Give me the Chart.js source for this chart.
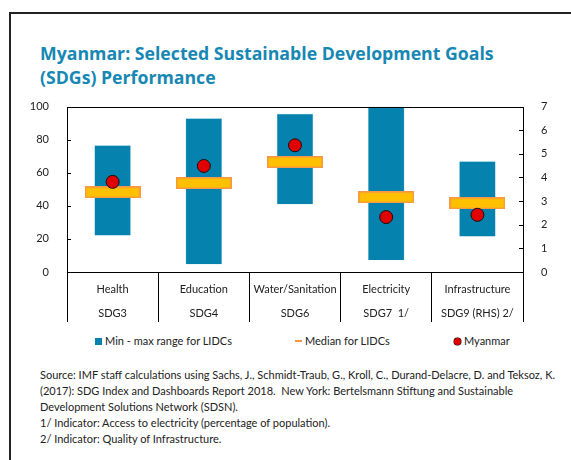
<!DOCTYPE html>
<html>
<head>
<meta charset="utf-8">
<script src="https://cdn.jsdelivr.net/npm/chart.js@4/dist/chart.umd.min.js"></script>
<style>
  body { margin: 0; width: 571px; height: 460px; background: #fff; position: relative; overflow: hidden; font-family: Lato, sans-serif; color: #222; }
  #frame { position: absolute; left: 9px; top: 12px; width: 600px; height: 500px; border-left: 2px solid #222; border-top: 2px solid #222; }
  #title { position: absolute; left: 40px; top: 41px; font: bold 17.7px/24px "Open Sans", sans-serif; color: #1688b3; white-space: nowrap; }
  #chart-wrap { position: absolute; left: 0; top: 90px; width: 571px; height: 240px; }
  .legend-item { position: absolute; top: 333px; font-size: 11px; line-height: 16px; white-space: nowrap; }
  .legend-item i { display: inline-block; vertical-align: middle; margin-right: 3px; position: relative; top: -1px; }
  #source { position: absolute; left: 40px; top: 367px; font-size: 11px; line-height: 16px; white-space: nowrap; color: #222; }
</style>
</head>
<body>
<div id="frame"></div>
<div id="title">Myanmar: Selected Sustainable Development Goals<br>(SDGs) Performance</div>
<div id="chart-wrap"><canvas id="sdg-chart"></canvas></div>
<div class="legend-item" style="left:95px"><i style="width:7px;height:7px;background:#0582ad"></i>Min - max range for LIDCs</div>
<div class="legend-item" style="left:295px"><i style="width:7px;height:2px;background:#f79646"></i>Median for LIDCs</div>
<div class="legend-item" style="left:454px"><i style="width:7px;height:7px;border-radius:50%;background:#e00000;box-shadow:0 0 0 0.5px #000"></i>Myanmar</div>
<div id="source">
Source: IMF staff calculations using Sachs, J., Schmidt-Traub, G., Kroll, C., Durand-Delacre, D. and Teksoz, K.<br>
(2017): SDG Index and Dashboards Report 2018.&nbsp; New York: Bertelsmann Stiftung and Sustainable<br>
Development Solutions Network (SDSN).<br>
1/ Indicator: Access to electricity (percentage of population).<br>
2/ Indicator: Quality of Infrastructure.
</div>
<script>
// goal categories, two-line labels for the table under the plot
const categories = [
    ["Health", "SDG3"],
    ["Education", "SDG4"],
    ["Water/Sanitation", "SDG6"],
    ["Electricity", "SDG7  1/"],
    ["Infrastructure", "SDG9 (RHS) 2/"]
];

// LIDC ranges, medians and Myanmar scores (last one is on the right axis, 0-7)
const lidcMin = [22, 4.7, 41, 7.2, 1.5];
const lidcMax = [76.7, 93, 95.7, 100, 4.69];
const lidcMedian = [48.2, 53.8, 66.5, 45.2, 2.91];
const myanmar = [54.5, 64.1, 76.6, 33.2, 2.42];

const rhsIndex = 4;
const leftTicks = [0, 20, 40, 60, 80, 100];
const rightTicks = [0, 1, 2, 3, 4, 5, 6, 7];

// split a series into left-axis and right-axis parts
function leftPart(values) {
    return values.map((v, i) => i === rhsIndex ? null : v);
}
function rightPart(values) {
    return values.map((v, i) => i === rhsIndex ? v : null);
}
const ranges = lidcMin.map((v, i) => [v, lidcMax[i]]);

// median marker: yellow bar with orange outline
const medianMark = document.createElement("canvas");
medianMark.width = 56;
medianMark.height = 12;
(function() {
    const c = medianMark.getContext("2d");
    c.fillStyle = "#ffc000";
    c.fillRect(0, 0, 56, 12);
    c.strokeStyle = "#f79646";
    c.lineWidth = 1.5;
    c.strokeRect(0.75, 0.75, 54.5, 10.5);
})();

const barStyle = {
    type: "bar",
    backgroundColor: "#0582ad",
    borderColor: "#7fc3dc",
    borderWidth: 0.5,
    barPercentage: 0.4,
    categoryPercentage: 1,
    grouped: false,
    order: 3
};
const medianStyle = {
    type: "line",
    showLine: false,
    pointStyle: medianMark,
    order: 2
};
const dotStyle = {
    type: "line",
    showLine: false,
    pointStyle: "circle",
    pointRadius: 6.5,
    pointBackgroundColor: "#e00000",
    pointBorderColor: "#111",
    pointBorderWidth: 1,
    order: 1
};

// plot box and inward tick marks
const frameBox = {
    id: "frameBox",
    afterDraw(chart) {
        const ctx = chart.ctx;
        const a = chart.chartArea;
        const y = chart.scales.y;
        const y2 = chart.scales.y2;
        ctx.save();
        ctx.strokeStyle = "#000";
        ctx.lineWidth = 1;
        ctx.strokeRect(Math.round(a.left) + 0.5, Math.round(a.top) + 0.5,
            Math.round(a.right - a.left), Math.round(a.bottom - a.top));
        ctx.beginPath();
        leftTicks.forEach(t => {
            const py = Math.round(y.getPixelForValue(t)) + 0.5;
            ctx.moveTo(a.left, py);
            ctx.lineTo(a.left + 4, py);
        });
        rightTicks.forEach(t => {
            const py = Math.round(y2.getPixelForValue(t)) + 0.5;
            ctx.moveTo(a.right, py);
            ctx.lineTo(a.right - 4, py);
        });
        ctx.stroke();
        ctx.restore();
    }
};

Chart.defaults.font.family = "Lato, sans-serif";
Chart.defaults.font.size = 11;
Chart.defaults.color = "#222";

new Chart(document.getElementById("sdg-chart"), {
    type: "bar",
    data: {
        labels: categories,
        datasets: [
            Object.assign({ label: "Min - max range for LIDCs", data: leftPart(ranges), yAxisID: "y" }, barStyle),
            Object.assign({ label: "Min - max range for LIDCs (RHS)", data: rightPart(ranges), yAxisID: "y2" }, barStyle),
            Object.assign({ label: "Median for LIDCs", data: leftPart(lidcMedian), yAxisID: "y" }, medianStyle),
            Object.assign({ label: "Median for LIDCs (RHS)", data: rightPart(lidcMedian), yAxisID: "y2" }, medianStyle),
            Object.assign({ label: "Myanmar", data: leftPart(myanmar), yAxisID: "y" }, dotStyle),
            Object.assign({ label: "Myanmar (RHS)", data: rightPart(myanmar), yAxisID: "y2" }, dotStyle)
        ]
    },
    options: {
        responsive: true,
        maintainAspectRatio: false,
        animation: false,
        layout: { padding: { left: 20, right: 8, top: 12, bottom: 0 } },
        plugins: {
            legend: { display: false },
            tooltip: { enabled: false }
        },
        scales: {
            x: {
                offset: true,
                border: { display: false },
                grid: {
                    offset: true,
                    drawOnChartArea: false,
                    drawTicks: true,
                    tickLength: 50,
                    color: "#000",
                    lineWidth: 1
                },
                ticks: {
                    padding: -45,
                    maxRotation: 0,
                    autoSkip: false,
                    font: { size: 11, lineHeight: 2.2 }
                },
                afterFit(scale) { scale.height = 58; }
            },
            y: {
                position: "left",
                min: 0,
                max: 100,
                border: { display: false },
                grid: { display: false },
                ticks: { stepSize: 20, padding: 10 },
                afterFit(scale) { scale.width = 47; }
            },
            y2: {
                position: "right",
                min: 0,
                max: 7,
                border: { display: false },
                grid: { display: false },
                ticks: { stepSize: 1, padding: 10 },
                afterFit(scale) { scale.width = 40; }
            }
        }
    },
    plugins: [frameBox]
});
</script>
</body>
</html>
